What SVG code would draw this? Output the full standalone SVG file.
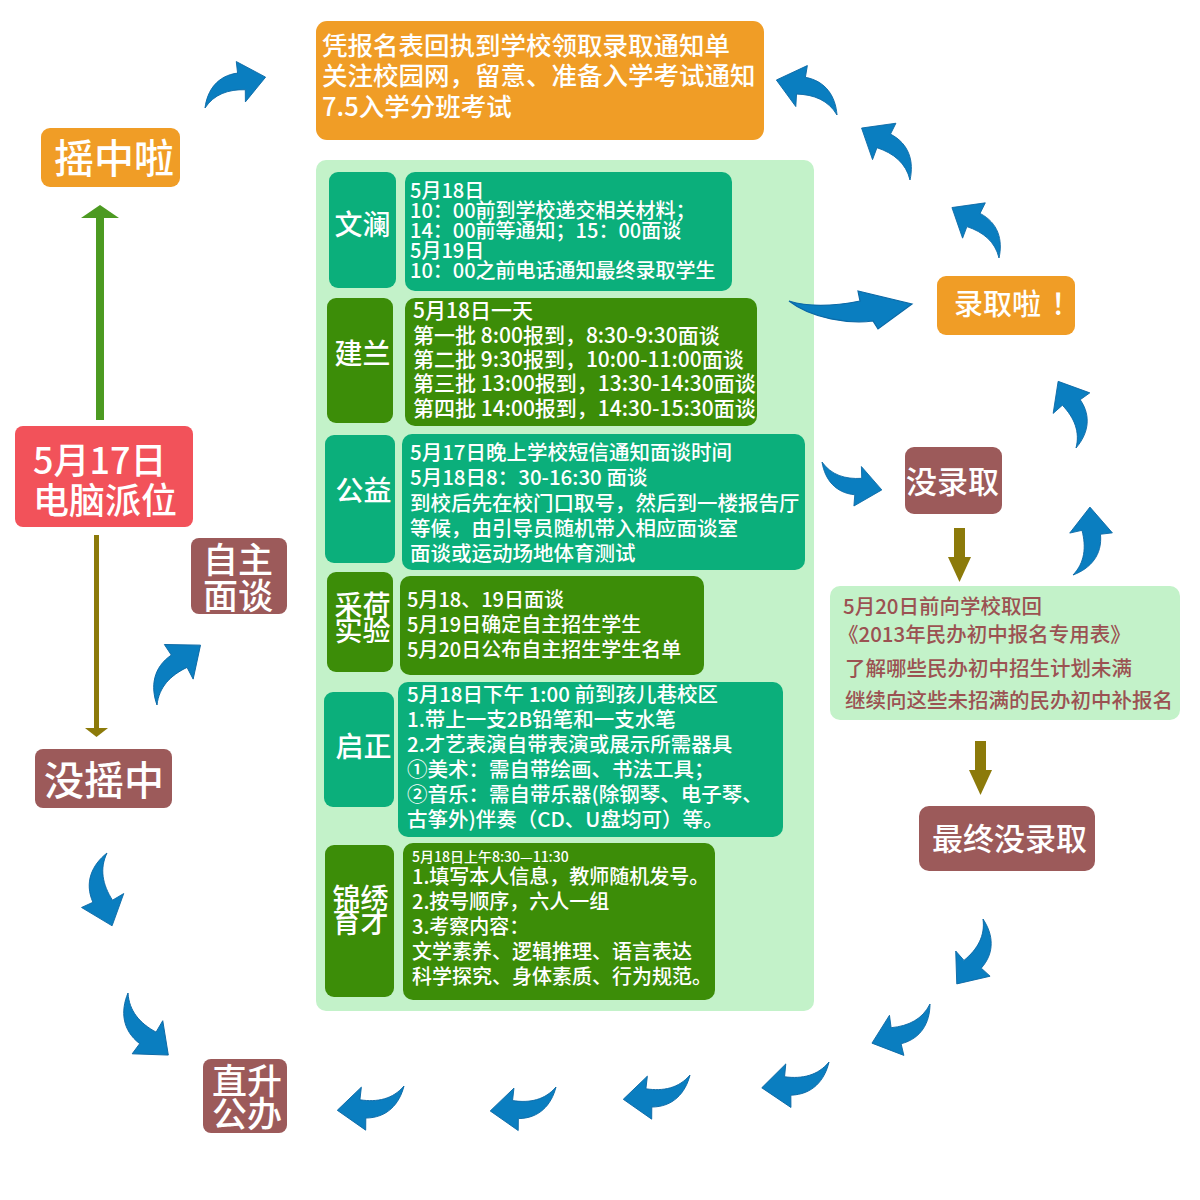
<svg xmlns="http://www.w3.org/2000/svg" xmlns:xlink="http://www.w3.org/1999/xlink" width="1200" height="1200" viewBox="0 0 1200 1200">
<style>
text{font-family:"Noto Sans CJK SC","Liberation Sans",sans-serif;fill:#fff;font-weight:500}
.orange{fill:#F09D26}
.red{fill:#F2525A}
.brown{fill:#9C5A5A}
.panel{fill:#C3F2C9}
.teal{fill:#0BAF7B}
.dg{fill:#3C8D08}
.blue{fill:#0A7EC0;stroke:#0C69A6;stroke-width:1.2}
.lbl{text-anchor:middle;font-size:28px}
.c20{font-size:20px}
.c205{font-size:20.5px}
.c21{font-size:21px}
.rt{fill:#9B5252;font-size:20.5px}
</style>
<defs>
<path id="ca" d="M0,0 C15,-22 38,-34 66,-24 L72,-40 L100,0 L57,19 L65,3 C43,-9 21,-12 0,0 Z"/>
</defs>

<g id="node-top">
<rect x="316" y="21" width="448" height="119" rx="11" class="orange"/>
<text font-size="25.5"><tspan x="322" y="54.5">凭报名表回执到学校领取录取通知单</tspan><tspan x="322" y="85">关注校园网，留意、准备入学考试通知</tspan><tspan x="322" y="115.5">7.5入学分班考试</tspan></text>
</g>

<g id="node-yaozhong">
<rect x="41" y="128" width="139" height="59" rx="9" class="orange"/>
<text x="54" y="172.5" font-size="40">摇中啦</text>
</g>

<g id="node-517">
<rect x="15" y="426" width="178" height="101" rx="8" class="red"/>
<text font-size="36"><tspan x="33" y="474">5月17日</tspan><tspan x="33" y="514">电脑派位</tspan></text>
</g>

<g id="node-zizhu">
<rect x="191" y="538" width="96" height="76" rx="8" class="brown"/>
<text font-size="35"><tspan x="203" y="573">自主</tspan><tspan x="203" y="609">面谈</tspan></text>
</g>

<g id="node-meiyaozhong">
<rect x="35" y="749" width="137" height="59" rx="8" class="brown"/>
<text x="44" y="795" font-size="40">没摇中</text>
</g>

<g id="node-zhisheng">
<rect x="203" y="1059" width="84" height="74" rx="8" class="brown"/>
<text font-size="35"><tspan x="212" y="1094">直升</tspan><tspan x="212" y="1127">公办</tspan></text>
</g>

<g id="node-panel">
<rect x="316" y="160" width="498" height="851" rx="10" class="panel"/>
</g>

<g id="node-wenlan">
<rect x="329" y="172" width="67" height="116" rx="9" class="teal"/>
<text x="362.5" y="235" class="lbl">文澜</text>
<rect x="405" y="172" width="327" height="119" rx="10" class="teal"/>
<text class="c20"><tspan x="410" y="198">5月18日</tspan><tspan x="410" y="218">10：00前到学校递交相关材料；</tspan><tspan x="410" y="238">14：00前等通知；15：00面谈</tspan><tspan x="410" y="258">5月19日</tspan><tspan x="410" y="278">10：00之前电话通知最终录取学生</tspan></text>
</g>

<g id="node-jianlan">
<rect x="327" y="298" width="66" height="125" rx="9" class="dg"/>
<text x="362.5" y="363.5" class="lbl">建兰</text>
<rect x="405" y="298" width="352" height="128" rx="10" class="dg"/>
<text class="c21"><tspan x="413" y="318">5月18日一天</tspan><tspan x="413" y="343">第一批 8:00报到，8:30-9:30面谈</tspan><tspan x="413" y="367">第二批 9:30报到，10:00-11:00面谈</tspan><tspan x="413" y="391">第三批 13:00报到，13:30-14:30面谈</tspan><tspan x="413" y="416">第四批 14:00报到，14:30-15:30面谈</tspan></text>
</g>

<g id="node-gongyi">
<rect x="325" y="435" width="70" height="128" rx="9" class="teal"/>
<text x="363.5" y="500.5" class="lbl">公益</text>
<rect x="402" y="434" width="403" height="136" rx="10" class="teal"/>
<text class="c205"><tspan x="410" y="460">5月17日晚上学校短信通知面谈时间</tspan><tspan x="410" y="485">5月18日8：30-16:30 面谈</tspan><tspan x="410" y="511">到校后先在校门口取号，然后到一楼报告厅</tspan><tspan x="410" y="536">等候，由引导员随机带入相应面谈室</tspan><tspan x="410" y="561">面谈或运动场地体育测试</tspan></text>
</g>

<g id="node-caihe">
<rect x="327" y="572" width="66" height="100" rx="9" class="dg"/>
<text class="lbl" font-size="29"><tspan x="362.5" y="616">采荷</tspan><tspan x="362.5" y="640.5">实验</tspan></text>
<rect x="400" y="576" width="304" height="99" rx="10" class="dg"/>
<text class="c20"><tspan x="407" y="607">5月18、19日面谈</tspan><tspan x="407" y="632">5月19日确定自主招生学生</tspan><tspan x="407" y="657">5月20日公布自主招生学生名单</tspan></text>
</g>

<g id="node-qizheng">
<rect x="324" y="692" width="70" height="115" rx="9" class="teal"/>
<text x="363.5" y="757" class="lbl">启正</text>
<rect x="398" y="682" width="385" height="155" rx="10" class="teal"/>
<text class="c205"><tspan x="407" y="702">5月18日下午 1:00 前到孩儿巷校区</tspan><tspan x="407" y="727">1.带上一支2B铅笔和一支水笔</tspan><tspan x="407" y="752">2.才艺表演自带表演或展示所需器具</tspan><tspan x="407" y="777">①美术：需自带绘画、书法工具；</tspan><tspan x="407" y="802">②音乐：需自带乐器(除钢琴、电子琴、</tspan><tspan x="407" y="827">古筝外)伴奏（CD、U盘均可）等。</tspan></text>
</g>

<g id="node-jinxiu">
<rect x="325" y="845" width="69" height="152" rx="9" class="dg"/>
<text class="lbl"><tspan x="360.5" y="909">锦绣</tspan><tspan x="360.5" y="933">育才</tspan></text>
<rect x="403" y="843" width="312" height="157" rx="10" class="dg"/>
<text class="c20"><tspan x="412" y="862" font-size="14">5月18日上午8:30—11:30</tspan><tspan x="412" y="884">1.填写本人信息，教师随机发号。</tspan><tspan x="412" y="909">2.按号顺序，六人一组</tspan><tspan x="412" y="934">3.考察内容：</tspan><tspan x="412" y="959">文学素养、逻辑推理、语言表达</tspan><tspan x="412" y="984">科学探究、身体素质、行为规范。</tspan></text>
</g>

<g id="node-luqu">
<rect x="937" y="276" width="138" height="59" rx="9" class="orange"/>
<text x="954" y="315" font-size="29">录取啦<tspan dx="10">！</tspan></text>
</g>

<g id="node-meiluqu">
<rect x="905" y="447" width="97" height="67" rx="9" class="brown"/>
<text x="906" y="493" font-size="31">没录取</text>
</g>

<g id="node-520">
<rect x="830" y="586" width="350" height="134" rx="10" class="panel"/>
<text class="rt"><tspan x="843" y="614">5月20日前向学校取回</tspan><tspan x="838" y="642">《2013年民办初中报名专用表》</tspan><tspan x="845" y="676">了解哪些民办初中招生计划未满</tspan><tspan x="845" y="708">继续向这些未招满的民办初中补报名</tspan></text>
</g>

<g id="node-final">
<rect x="919" y="806" width="176" height="65" rx="10" class="brown"/>
<text x="932" y="850" font-size="31">最终没录取</text>
</g>

<g id="connectors">
<g class="blue">
<use xlink:href="#ca" transform="translate(205,108) rotate(-27) scale(0.68,0.68)"/>
<use xlink:href="#ca" transform="translate(837,115) rotate(210) scale(0.70,-0.70)"/>
<use xlink:href="#ca" transform="translate(910,180) rotate(227) scale(0.71,-0.71)"/>
<use xlink:href="#ca" transform="translate(999,258) rotate(227) scale(0.69,-0.69)"/>
<path d="M789,301 C805,306 830,307 860,301 L858,291 L912,304 L878,329 L873,321 C850,324 812,319 789,301 Z"/>
<use xlink:href="#ca" transform="translate(822,462) rotate(25) scale(0.66,-0.66)"/>
<use xlink:href="#ca" transform="translate(1076,448) rotate(-105) scale(0.69,-0.69)"/>
<use xlink:href="#ca" transform="translate(1073,575) rotate(-76) scale(0.70,-0.70)"/>
<use xlink:href="#ca" transform="translate(983,919) rotate(112) scale(0.70,0.70)"/>
<use xlink:href="#ca" transform="translate(930,1004) rotate(146) scale(0.70,0.70)"/>
<use xlink:href="#ca" transform="translate(829,1062) rotate(159) scale(0.72,0.72)"/>
<use xlink:href="#ca" transform="translate(690,1075) rotate(160) scale(0.71,0.71)"/>
<use xlink:href="#ca" transform="translate(556,1087) rotate(160) scale(0.70,0.70)"/>
<use xlink:href="#ca" transform="translate(404,1086) rotate(160) scale(0.71,0.71)"/>
<use xlink:href="#ca" transform="translate(107,853) rotate(86) scale(0.73,-0.73)"/>
<use xlink:href="#ca" transform="translate(128,993) rotate(57) scale(0.74,-0.74)"/>
<use xlink:href="#ca" transform="translate(157,705) rotate(-54) scale(0.74,0.74)"/>
</g>
<rect x="96" y="216" width="8" height="204" fill="#4C9A21"/>
<polygon points="100,205 81,218 119,218" fill="#4C9A21"/>
<rect x="94" y="535" width="5" height="195" fill="#8C7A0A"/>
<polygon points="85,728 108,728 96.5,737" fill="#8C7A0A"/>
<rect x="954" y="528" width="11" height="30" fill="#8C7A0A"/>
<polygon points="948,557 971,557 959.5,582" fill="#8C7A0A"/>
<rect x="975" y="741" width="11" height="30" fill="#8C7A0A"/>
<polygon points="969,770 992,770 980.5,795" fill="#8C7A0A"/>
</g>
</svg>
